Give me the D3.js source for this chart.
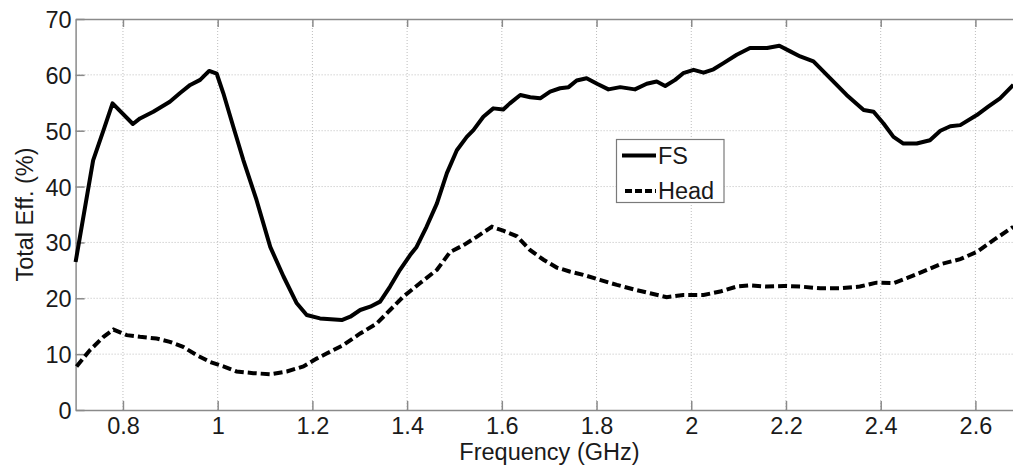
<!DOCTYPE html>
<html>
<head>
<meta charset="utf-8">
<script src="https://cdn.jsdelivr.net/npm/d3@7"></script>
<style>
  html, body { margin: 0; padding: 0; background: #fff; }
  svg { display: block; }
  text { font-family: "Liberation Sans", Arial, sans-serif; fill: #1a1a1a; }
</style>
</head>
<body>
<svg id="chart" width="1013" height="465"></svg>
<script>
// ---- Data ----
const fsFreq = [0.700,0.737,0.759,0.778,0.821,0.836,0.864,0.899,0.920,0.942,0.963,0.982,0.998,1.012,1.033,1.054,1.082,1.111,1.139,1.167,1.188,1.216,1.262,1.280,1.301,1.322,1.343,1.364,1.385,1.406,1.420,1.441,1.463,1.484,1.505,1.526,1.540,1.561,1.582,1.603,1.617,1.639,1.660,1.681,1.702,1.723,1.741,1.758,1.779,1.801,1.825,1.850,1.881,1.906,1.927,1.945,1.966,1.983,2.005,2.026,2.047,2.068,2.096,2.124,2.160,2.186,2.209,2.230,2.258,2.293,2.328,2.364,2.385,2.406,2.427,2.448,2.476,2.504,2.526,2.547,2.568,2.603,2.627,2.652,2.680];
const fsEff  = [26.5,44.7,50.1,54.9,51.2,52.2,53.4,55.2,56.7,58.2,59.1,60.7,60.2,56.7,50.7,44.8,37.6,29.2,23.9,19.1,17.0,16.4,16.1,16.7,17.9,18.5,19.4,22.1,25.1,27.7,29.2,32.8,37.0,42.4,46.5,48.9,50.1,52.5,54.0,53.8,54.9,56.4,56.0,55.8,57.0,57.6,57.8,59.0,59.4,58.4,57.4,57.8,57.4,58.4,58.8,58.0,59.1,60.3,60.9,60.4,61.0,62.1,63.6,64.8,64.8,65.2,64.2,63.3,62.4,59.4,56.4,53.7,53.4,51.3,48.9,47.7,47.7,48.3,50.0,50.8,51.0,52.8,54.3,55.8,58.2];

const headFreq = [0.702,0.730,0.759,0.780,0.808,0.836,0.871,0.899,0.927,0.956,0.984,1.012,1.040,1.075,1.111,1.146,1.181,1.209,1.230,1.265,1.301,1.336,1.364,1.392,1.427,1.463,1.491,1.519,1.547,1.579,1.603,1.632,1.660,1.688,1.716,1.743,1.772,1.807,1.843,1.878,1.913,1.948,1.983,2.026,2.061,2.096,2.124,2.160,2.195,2.230,2.272,2.314,2.356,2.391,2.427,2.455,2.490,2.526,2.568,2.603,2.638,2.680];
const headEff  = [7.8,10.7,13.1,14.4,13.4,13.1,12.8,12.2,11.3,9.8,8.6,7.8,6.9,6.6,6.4,6.9,7.8,9.2,10.1,11.6,13.7,15.5,17.9,20.3,22.7,25.1,28.3,29.5,31.0,32.8,32.1,31.1,28.6,26.9,25.5,24.8,24.2,23.3,22.4,21.6,20.9,20.2,20.6,20.6,21.2,22.1,22.3,22.1,22.2,22.1,21.8,21.8,22.1,22.8,22.7,23.6,24.8,26.1,27.0,28.3,30.4,32.8];

const xTicks = [0.8, 1, 1.2, 1.4, 1.6, 1.8, 2, 2.2, 2.4, 2.6];
const yTicks = [0, 10, 20, 30, 40, 50, 60, 70];
const seriesNames = ["FS", "Head"];
const xLabel = "Frequency (GHz)";
const yLabel = "Total Eff. (%)";

// ---- Layout ----
const svg = d3.select("#chart");
const mLeft = 75.6, mRight = 1013.3, mTop = 19, mBottom = 410;
const tickFont = 23.5;
const labelFont = 23.5;

const x = d3.scaleLinear().domain([0.7, 2.68]).range([mLeft, mRight]);
const y = d3.scaleLinear().domain([0, 70]).range([mBottom, mTop]);

const gridColor = "#bdbdbd";
const axisColor = "#8a8a8a";

// Grid
const grid = svg.append("g");
grid.selectAll("line.gx").data(xTicks).join("line")
  .attr("x1", d => x(d)).attr("x2", d => x(d))
  .attr("y1", mTop).attr("y2", mBottom)
  .attr("stroke", gridColor).attr("stroke-width", 1)
  .attr("stroke-dasharray", "1,2");
grid.selectAll("line.gy").data(yTicks.filter(d => d > 0 && d < 70)).join("line")
  .attr("x1", mLeft).attr("x2", mRight)
  .attr("y1", d => y(d)).attr("y2", d => y(d))
  .attr("stroke", gridColor).attr("stroke-width", 1)
  .attr("stroke-dasharray", "1,2");

// Axes
const xAxisB = d3.axisBottom(x).tickValues(xTicks).tickSizeInner(-9).tickSizeOuter(0).tickFormat(d3.format("~g"));
const xAxisT = d3.axisTop(x).tickValues(xTicks).tickSizeInner(-8).tickSizeOuter(0).tickFormat("");
const yAxisL = d3.axisLeft(y).tickValues(yTicks).tickSizeInner(-9).tickSizeOuter(0).tickFormat(d3.format("~g"));

function styleAxis(g) {
  g.select(".domain").attr("stroke", axisColor).attr("stroke-width", 1.5);
  g.selectAll(".tick line").attr("stroke", axisColor).attr("stroke-width", 1.5);
  g.selectAll(".tick text").attr("font-size", tickFont).attr("fill", "#1a1a1a")
    .style("font-family", '"Liberation Sans", Arial, sans-serif');
}

const gb = svg.append("g").attr("transform", `translate(0,${mBottom})`).call(xAxisB).call(styleAxis);
gb.selectAll(".tick text").attr("dy", null).attr("y", 24);
const gt = svg.append("g").attr("transform", `translate(0,${mTop})`).call(xAxisT).call(styleAxis);
const gl = svg.append("g").attr("transform", `translate(${mLeft},0)`).call(yAxisL).call(styleAxis);
gl.selectAll(".tick text").attr("x", -4).attr("dy", "0.36em");

// Axis labels
svg.append("text")
  .attr("x", (mLeft + mRight) / 2 + 5).attr("y", 459.5)
  .attr("text-anchor", "middle").attr("font-size", labelFont)
  .text(xLabel);
svg.append("text")
  .attr("transform", `translate(33,${(mTop + mBottom) / 2}) rotate(-90)`)
  .attr("text-anchor", "middle").attr("font-size", labelFont)
  .text(yLabel);

// Lines
const line = d3.line().x(d => x(d[0])).y(d => y(d[1]));
const fsData = fsFreq.map((f, i) => [f, fsEff[i]]);
const headData = headFreq.map((f, i) => [f, headEff[i]]);

const plot = svg.append("g");
plot.append("path").datum(fsData)
  .attr("d", line).attr("fill", "none").attr("stroke", "#000")
  .attr("stroke-width", 4).attr("stroke-linejoin", "round");
plot.append("path").datum(headData)
  .attr("d", line).attr("fill", "none").attr("stroke", "#000")
  .attr("stroke-width", 4).attr("stroke-dasharray", "9,4");

// Legend
const lg = svg.append("g");
lg.append("rect")
  .attr("x", 616.5).attr("y", 139.5).attr("width", 107.5).attr("height", 63)
  .attr("fill", "#fff").attr("stroke", "#7a7a7a").attr("stroke-width", 1.2);
const legendStyles = [null, "7,3"];
seriesNames.forEach((name, i) => {
  const ly = 155.5 + i * 35.5;
  lg.append("line")
    .attr("x1", i === 0 ? 622 : 625).attr("x2", 656)
    .attr("y1", ly).attr("y2", ly)
    .attr("stroke", "#000").attr("stroke-width", 4)
    .attr("stroke-dasharray", legendStyles[i]);
  lg.append("text")
    .attr("x", 658).attr("y", ly).attr("dy", "0.36em")
    .attr("font-size", tickFont)
    .text(name);
});
</script>
</body>
</html>
